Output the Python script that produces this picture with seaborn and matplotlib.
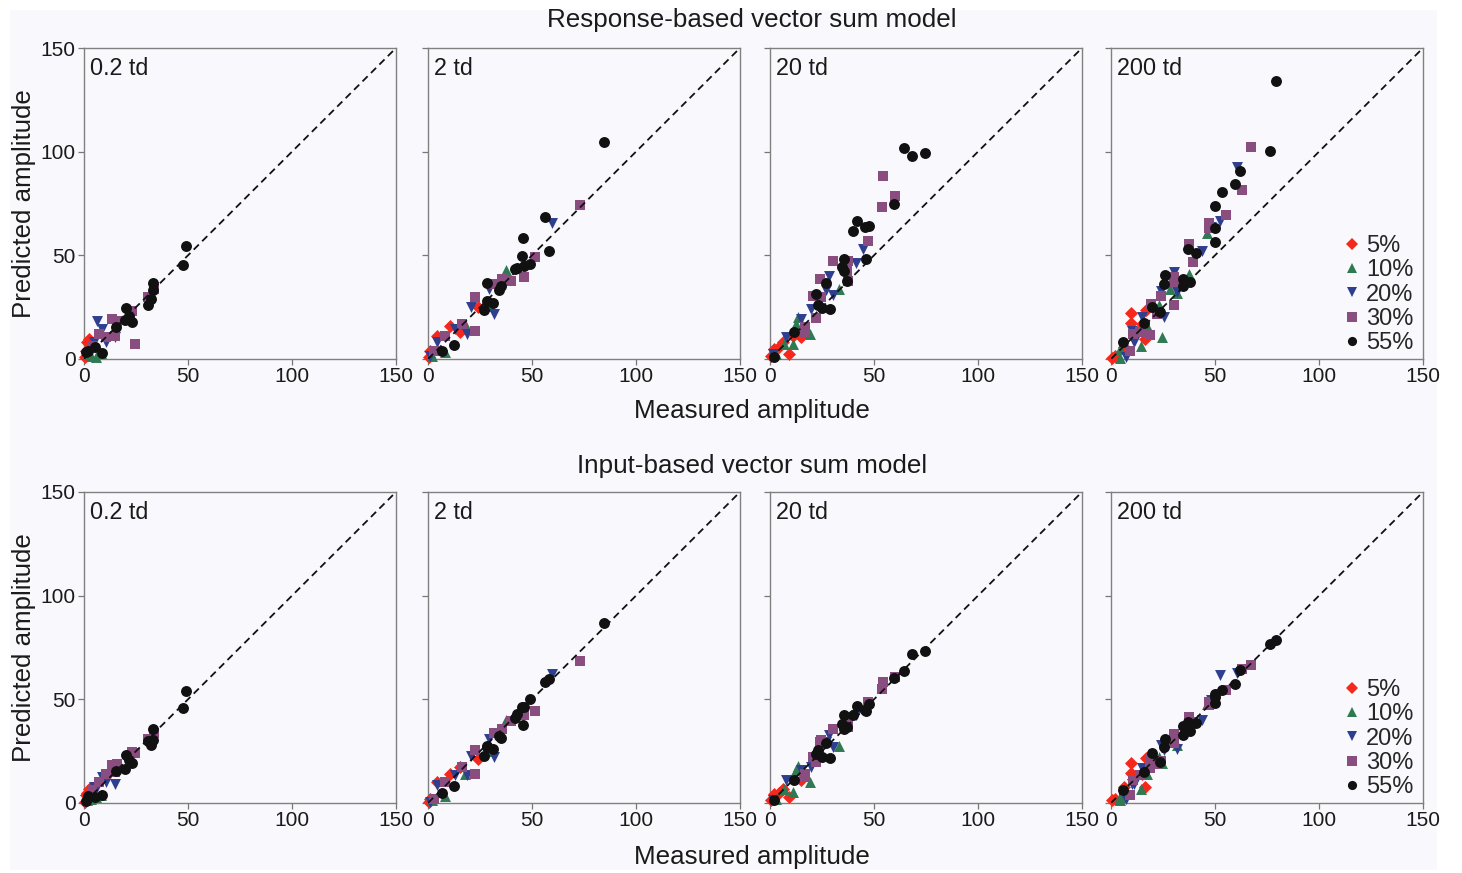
import numpy as np
import pandas as pd
import matplotlib
matplotlib.use("Agg")
import matplotlib.pyplot as plt
import seaborn as sns
from matplotlib.patches import Rectangle

# ---------------- data ----------------
contrasts = ["5%", "10%", "20%", "30%", "55%"]
td_labels = ["0.2 td", "2 td", "20 td", "200 td"]
row_titles = ["Response-based vector sum model", "Input-based vector sum model"]

# 0.2 td
meas_a_5 = [2.4, 1.6, 1.1, 0.3]
resp_a_5 = [9.6, 8.0, 4.0, 0.8]
inp_a_5 = [6.9, 5.0, 3.7, 0.5]
meas_a_10 = [5.6, 1.6, 3.2, 8.0]
resp_a_10 = [0.8, 2.4, 1.6, 3.0]
inp_a_10 = [2.9, 1.5, 2.0, 3.7]
meas_a_20 = [6.4, 8.8, 10.5, 15.0, 4.8]
resp_a_20 = [18.5, 14.4, 8.0, 10.4, 8.0]
inp_a_20 = [7.5, 12.5, 10.0, 9.3, 7.7]
meas_a_30 = [24.4, 33.8, 31.0, 23.3, 13.7, 16.0, 7.2, 10.5, 15.0, 4.0]
resp_a_30 = [7.2, 33.7, 29.7, 23.3, 19.3, 18.5, 12.0, 10.4, 11.2, 6.4]
inp_a_30 = [24.0, 34.0, 31.0, 24.6, 18.2, 19.0, 10.0, 14.1, 15.0, 6.1]
meas_a_55 = [49.0, 47.4, 33.0, 33.0, 32.0, 31.0, 20.4, 19.8, 23.0, 21.7, 15.6, 8.8, 5.3, 2.0, 0.8]
resp_a_55 = [54.6, 45.3, 36.6, 33.4, 29.0, 26.0, 24.4, 18.8, 17.7, 20.9, 15.6, 2.7, 5.6, 3.7, 3.2]
inp_a_55 = [54.0, 45.8, 35.9, 30.2, 28.1, 30.0, 23.0, 16.5, 19.3, 20.9, 15.4, 4.0, 2.9, 3.2, 1.0]

# 2 td
meas_b_5 = [4.3, 10.7, 24.2, 15.5, 1.1, 0.3]
resp_b_5 = [11.3, 16.1, 25.2, 12.9, 4.0, 0.8]
inp_b_5 = [10.1, 14.1, 21.4, 17.4, 2.1, 0.5]
meas_b_10 = [37.5, 29.8, 17.9, 8.3, 1.9]
resp_b_10 = [42.9, 25.7, 16.9, 3.2, 1.6]
inp_b_10 = [40.0, 25.0, 14.0, 3.2, 1.5]
meas_b_20 = [59.6, 29.3, 31.9, 20.7, 18.7, 13.1, 4.3, 1.1]
resp_b_20 = [65.6, 33.8, 21.7, 24.9, 12.1, 14.5, 8.0, 1.6]
inp_b_20 = [62.4, 31.0, 22.0, 22.8, 13.3, 13.3, 8.5, 0.5]
meas_b_30 = [72.9, 51.4, 46.3, 39.7, 35.4, 31.9, 22.6, 22.6, 16.3, 8.3, 2.7]
resp_b_30 = [74.4, 49.0, 39.4, 37.8, 38.6, 36.2, 29.7, 13.7, 16.9, 11.3, 4.0]
inp_b_30 = [68.3, 44.2, 42.3, 39.5, 35.9, 33.8, 25.4, 14.1, 17.4, 10.1, 2.1]
meas_b_55 = [84.4, 56.1, 58.2, 45.8, 45.3, 49.0, 46.3, 43.0, 41.8, 34.9, 34.1, 28.2, 31.4, 28.5, 27.1, 12.3, 6.7]
resp_b_55 = [104.5, 68.6, 52.3, 58.2, 49.5, 45.8, 44.7, 43.9, 43.6, 35.0, 33.4, 36.8, 27.0, 28.1, 23.6, 6.8, 4.0]
inp_b_55 = [86.8, 58.4, 60.0, 37.8, 46.3, 50.0, 46.3, 43.0, 41.2, 31.5, 32.2, 27.5, 26.0, 27.0, 22.5, 8.2, 5.0]

# 20 td
meas_c_5 = [15.0, 9.0, 2.1, 6.1, 10.9, 0.5, 4.5]
resp_c_5 = [10.5, 2.4, 4.8, 8.0, 11.3, 1.6, 5.6]
inp_c_5 = [10.9, 2.9, 4.5, 6.9, 11.7, 1.6, 5.0]
meas_c_10 = [33.1, 12.5, 13.3, 19.0, 10.9, 6.9, 2.9]
resp_c_10 = [33.8, 16.9, 20.4, 12.1, 7.2, 7.2, 2.4]
inp_c_10 = [27.3, 16.1, 17.9, 10.1, 5.3, 6.9, 2.1]
meas_c_20 = [44.7, 41.2, 28.6, 27.0, 30.2, 19.8, 15.0, 7.7, 1.3]
resp_c_20 = [53.1, 46.1, 39.9, 33.3, 31.0, 24.1, 19.3, 10.5, 2.4]
inp_c_20 = [44.7, 42.3, 32.6, 29.4, 26.8, 17.4, 15.8, 10.9, 1.3]
meas_c_30 = [54.3, 60.0, 53.9, 46.9, 30.5, 37.5, 37.0, 37.5, 24.1, 20.6, 24.6, 22.2, 16.6, 16.6]
resp_c_30 = [88.1, 78.8, 73.2, 57.1, 47.4, 47.4, 42.6, 37.8, 38.6, 30.5, 29.7, 19.8, 15.3, 12.9]
inp_c_30 = [58.4, 60.8, 55.0, 48.7, 35.9, 36.7, 39.9, 38.5, 29.4, 22.0, 30.2, 20.0, 14.1, 12.5]
meas_c_55 = [64.5, 68.3, 74.4, 59.6, 41.8, 39.9, 45.5, 47.4, 46.0, 35.5, 34.7, 35.4, 37.0, 27.0, 21.9, 23.0, 25.1, 28.9, 11.7, 2.1]
resp_c_55 = [101.8, 98.1, 99.2, 74.6, 66.7, 61.9, 63.5, 64.3, 48.1, 48.2, 44.2, 42.3, 37.5, 36.5, 31.4, 26.2, 24.4, 24.1, 12.9, 0.8]
inp_c_55 = [63.7, 71.7, 73.3, 60.5, 46.8, 42.3, 45.0, 47.9, 44.4, 42.6, 37.9, 35.9, 36.5, 29.0, 23.5, 25.4, 22.2, 21.9, 10.9, 1.6]

# 200 td
meas_d_5 = [9.6, 9.6, 17.0, 14.9, 16.5, 6.1, 2.1, 0.3]
resp_d_5 = [22.0, 17.2, 23.6, 16.9, 9.6, 5.6, 1.6, 0.3]
inp_d_5 = [19.3, 14.5, 21.7, 14.1, 7.7, 7.7, 2.1, 1.3]
meas_d_10 = [46.0, 37.4, 28.6, 31.5, 23.0, 24.6, 17.3, 14.4, 4.5, 4.2]
resp_d_10 = [60.6, 41.0, 33.8, 31.7, 26.2, 10.8, 16.1, 6.4, 4.8, 0.3]
inp_d_10 = [47.9, 38.3, 29.4, 27.8, 22.0, 19.3, 14.1, 6.9, 2.9, 1.6]
meas_d_20 = [60.7, 52.6, 48.2, 43.8, 30.2, 23.8, 31.8, 25.7, 14.9, 10.1, 10.9, 7.4]
resp_d_20 = [92.4, 66.7, 63.5, 51.9, 41.8, 33.0, 32.2, 20.4, 20.4, 13.7, 8.0, 1.1]
inp_d_20 = [62.7, 61.6, 49.5, 40.2, 30.2, 27.8, 26.2, 25.4, 17.0, 9.3, 9.3, 2.1]
meas_d_30 = [67.1, 63.1, 55.5, 47.0, 47.0, 37.7, 39.5, 30.5, 30.5, 24.1, 19.3, 30.2, 22.2, 18.9, 14.1, 10.6, 9.0]
resp_d_30 = [102.1, 81.5, 69.5, 65.4, 63.0, 55.5, 46.6, 39.4, 37.0, 30.5, 26.5, 26.2, 21.7, 11.7, 12.9, 12.1, 4.0]
inp_d_30 = [66.7, 64.8, 54.3, 47.1, 48.5, 41.5, 39.0, 31.8, 33.4, 20.1, 21.7, 29.0, 19.0, 17.0, 13.7, 10.9, 3.7]
meas_d_55 = [79.5, 76.4, 62.0, 59.4, 53.5, 50.2, 50.2, 50.2, 37.1, 40.9, 26.2, 25.7, 34.7, 38.2, 34.7, 23.4, 19.7, 15.7, 6.0]
resp_d_55 = [133.9, 100.2, 90.5, 84.4, 80.7, 74.0, 63.2, 56.6, 53.1, 51.1, 40.7, 36.2, 38.6, 37.0, 35.4, 22.8, 24.9, 17.2, 8.0]
inp_d_55 = [78.5, 76.5, 64.3, 57.2, 54.7, 52.7, 48.2, 51.1, 39.1, 38.6, 31.0, 27.0, 37.0, 34.7, 32.6, 19.8, 24.1, 15.0, 6.5]

panels = {
    "0.2 td": ([meas_a_5, meas_a_10, meas_a_20, meas_a_30, meas_a_55],
               [resp_a_5, resp_a_10, resp_a_20, resp_a_30, resp_a_55],
               [inp_a_5, inp_a_10, inp_a_20, inp_a_30, inp_a_55]),
    "2 td": ([meas_b_5, meas_b_10, meas_b_20, meas_b_30, meas_b_55],
             [resp_b_5, resp_b_10, resp_b_20, resp_b_30, resp_b_55],
             [inp_b_5, inp_b_10, inp_b_20, inp_b_30, inp_b_55]),
    "20 td": ([meas_c_5, meas_c_10, meas_c_20, meas_c_30, meas_c_55],
              [resp_c_5, resp_c_10, resp_c_20, resp_c_30, resp_c_55],
              [inp_c_5, inp_c_10, inp_c_20, inp_c_30, inp_c_55]),
    "200 td": ([meas_d_5, meas_d_10, meas_d_20, meas_d_30, meas_d_55],
               [resp_d_5, resp_d_10, resp_d_20, resp_d_30, resp_d_55],
               [inp_d_5, inp_d_10, inp_d_20, inp_d_30, inp_d_55]),
}

rows = []
for td in td_labels:
    meas, resp, inp = panels[td]
    for c, m, r, i in zip(contrasts, meas, resp, inp):
        for mv, rv, iv in zip(m, r, i):
            rows.append(dict(td=td, contrast=c, model=row_titles[0], measured=mv, predicted=rv))
            rows.append(dict(td=td, contrast=c, model=row_titles[1], measured=mv, predicted=iv))
df = pd.DataFrame(rows)

# ---------------- style ----------------
sns.set_theme(style="ticks")
plt.rcParams["font.family"] = ["Liberation Sans", "DejaVu Sans"]

tint = "#f9f9fd"
ink = "#1a1a1a"
palette = {"5%": "#f5281c", "10%": "#2f7a52", "20%": "#2e3f8f", "30%": "#8a4d80", "55%": "#111111"}
markers = {"5%": "D", "10%": "^", "20%": "v", "30%": "s", "55%": "o"}
sizes = {"5%": 44, "10%": 62, "20%": 62, "30%": 56, "55%": 62}

fig = plt.figure(figsize=(14.62, 8.73), dpi=100, facecolor="white")
fig.patches.append(Rectangle((10 / 1462, 3 / 873), 1427 / 1462, 860 / 873,
                             transform=fig.transFigure, facecolor=tint,
                             edgecolor="none", zorder=-10))

lefts = [84, 428, 770, 1111]
tops = [48, 492]
W, H = 312, 311

for r, model in enumerate(row_titles):
    for c, td in enumerate(td_labels):
        x0 = lefts[c] / 1462
        y0 = 1 - (tops[r] + H) / 873
        ax = fig.add_axes([x0, y0, W / 1462, H / 873])
        ax.set_facecolor(tint)
        sub = df[(df.model == model) & (df.td == td)]
        for cont in contrasts:
            s = sub[sub.contrast == cont]
            sns.scatterplot(data=s, x="measured", y="predicted", ax=ax,
                            color=palette[cont], marker=markers[cont],
                            s=sizes[cont], linewidth=0, zorder=3,
                            legend=False, clip_on=False)
        ax.plot([0, 150], [0, 150], color="#111111", lw=1.3,
                linestyle=(0, (4, 2.6)), zorder=4)
        ax.set_xlim(0, 150)
        ax.set_ylim(0, 150)
        ax.set_xticks([0, 50, 100, 150])
        ax.set_yticks([0, 50, 100, 150])
        ax.tick_params(direction="out", length=4, width=0.9, color="#777777",
                       labelsize=15, labelcolor=ink, pad=2)
        for sp in ax.spines.values():
            sp.set_color("#808080")
            sp.set_linewidth(1.0)
        ax.set_xlabel("")
        if c == 0:
            ax.set_ylabel("Predicted amplitude", fontsize=18.6, color=ink, labelpad=3)
        else:
            ax.set_ylabel("")
            ax.set_yticklabels([])
        ax.text(0.02, 0.972, td, transform=ax.transAxes, ha="left", va="top",
                fontsize=16.8, color=ink)
        if c == 3:
            handles = [plt.Line2D([], [], linestyle="none", marker=markers[k],
                                  color=palette[k], markersize=(6.6 if k != "5%" else 6.0),
                                  markeredgewidth=0) for k in contrasts]
            ax.legend(handles, contrasts, loc="lower right", frameon=False,
                      fontsize=17, handlelength=0.5, handletextpad=0.35,
                      labelspacing=0.1, borderaxespad=0.1, borderpad=0.1,
                      bbox_to_anchor=(0.985, 0.0))

for txt, ypix in [(row_titles[0], 20), (row_titles[1], 466),
                  ("Measured amplitude", 411), ("Measured amplitude", 857)]:
    fig.text(752 / 1462, 1 - ypix / 873, txt, ha="center", va="center",
             fontsize=18.7, color=ink)

fig.savefig("out.png", dpi=100, facecolor="white")
